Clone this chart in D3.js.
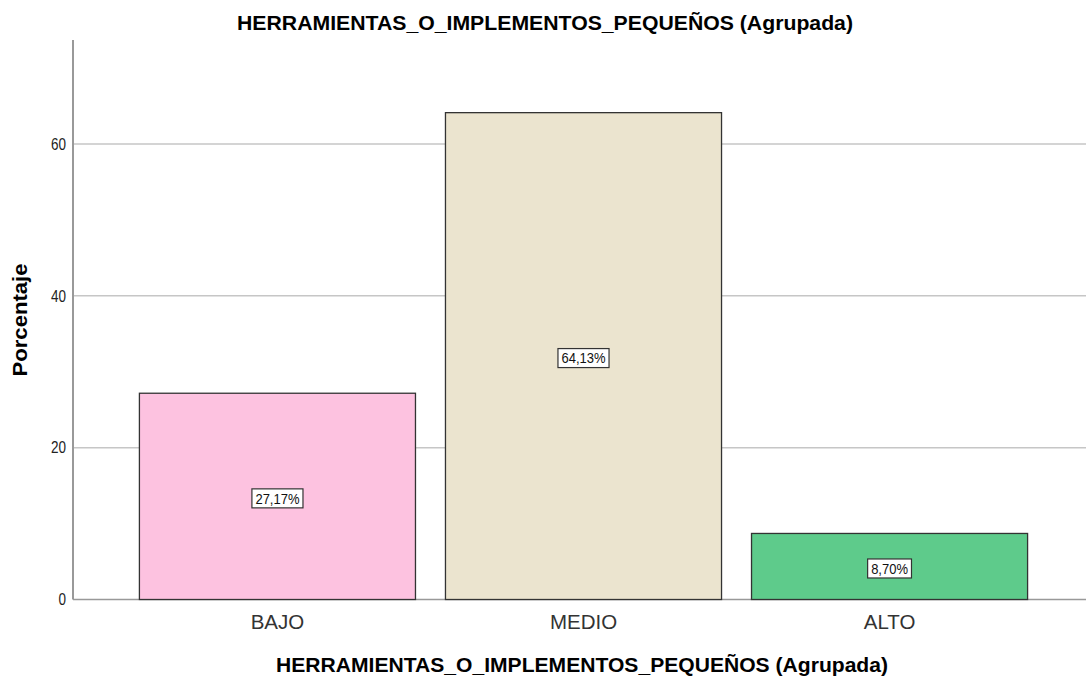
<!DOCTYPE html>
<html>
<head>
<meta charset="utf-8">
<script src="https://cdn.jsdelivr.net/npm/d3@7"></script>
<style>
body { margin: 0; background: #fff; }
text { font-family: "Liberation Sans", Arial, sans-serif; }
</style>
</head>
<body>
<script>
var w = 1086
var h = 682

var categories = ["BAJO", "MEDIO", "ALTO"]
var percents = [27.17, 64.13, 8.70]
var barColors = ["#fdc2e0", "#ebe4cf", "#5ecb8b"]
var yTicks = [0, 20, 40, 60]
var chartTitle = "HERRAMIENTAS_O_IMPLEMENTOS_PEQUEÑOS (Agrupada)"

var plotLeft = 73, plotRight = 1094, plotTop = 40, plotBottom = 599.5

var x = d3.scaleBand()
    .domain(categories)
    .range([plotLeft, plotRight])
    .paddingInner(0.098)
    .paddingOuter(0.217)

var y = d3.scaleLinear()
    .domain([0, 73.7])
    .range([plotBottom, plotTop])

var svg = d3.select("body")
    .append("svg")
    .attr("width", w)
    .attr("height", h)

// gridlines
svg.selectAll("line.grid")
    .data(yTicks.filter(function (d) { return d > 0 }))
    .enter()
    .append("line")
    .attr("x1", plotLeft)
    .attr("x2", w)
    .attr("y1", function (d) { return y(d) })
    .attr("y2", function (d) { return y(d) })
    .attr("stroke", "#c6c6c6")
    .attr("stroke-width", 1.5)

// y axis
var yAxis = svg.append("g")
    .attr("transform", "translate(" + plotLeft + ",0)")
    .call(d3.axisLeft(y).tickValues(yTicks).tickSize(0).tickPadding(7))
yAxis.select(".domain").remove()
yAxis.selectAll("text")
    .style("font-size", "13.5px")
    .style("font-family", "'Liberation Sans', Arial, sans-serif")
    .attr("transform", "scale(1,1.2)")
    .attr("fill", "#222")

svg.append("line")
    .attr("x1", plotLeft).attr("x2", plotLeft)
    .attr("y1", plotTop).attr("y2", plotBottom)
    .attr("stroke", "#999")
    .attr("stroke-width", 2)

svg.append("line")
    .attr("x1", plotLeft).attr("x2", w)
    .attr("y1", plotBottom).attr("y2", plotBottom)
    .attr("stroke", "#999")
    .attr("stroke-width", 1.5)

// bars
svg.selectAll("rect.bar")
    .data(categories)
    .enter()
    .append("rect")
    .attr("x", function (d) { return x(d) })
    .attr("width", x.bandwidth())
    .attr("y", function (d, i) { return y(percents[i]) })
    .attr("height", function (d, i) { return plotBottom - y(percents[i]) })
    .attr("fill", function (d, i) { return barColors[i] })
    .attr("stroke", "#333")
    .attr("stroke-width", 1.3)

// value labels
var labels = svg.selectAll("g.lbl")
    .data(categories)
    .enter()
    .append("g")
    .attr("transform", function (d, i) {
        return "translate(" + (x(d) + x.bandwidth() / 2) + "," + (y(percents[i] / 2) + 2) + ")"
    })

labels.append("text")
    .attr("text-anchor", "middle")
    .attr("dy", "0.35em")
    .attr("transform", "scale(1,1.15)")
    .style("font-size", "13px")
    .attr("fill", "#111")
    .text(function (d, i) { return percents[i].toFixed(2).replace(".", ",") + "%" })

labels.each(function () {
    var g = d3.select(this)
    var bb = g.select("text").node().getBBox()
    g.insert("rect", "text")
        .attr("x", bb.x - 3.5)
        .attr("y", -9.5)
        .attr("width", bb.width + 7)
        .attr("height", 19)
        .attr("fill", "#fff")
        .attr("stroke", "#333")
        .attr("stroke-width", 1.2)
})

// category labels
svg.selectAll("text.cat")
    .data(categories)
    .enter()
    .append("text")
    .attr("x", function (d) { return x(d) + x.bandwidth() / 2 })
    .attr("y", 629)
    .attr("text-anchor", "middle")
    .style("font-size", "20.5px")
    .attr("fill", "#333")
    .text(function (d) { return d })

// titles
svg.append("text")
    .attr("x", 545)
    .attr("y", 30)
    .attr("text-anchor", "middle")
    .attr("textLength", 616)
    .attr("lengthAdjust", "spacingAndGlyphs")
    .style("font-size", "20.5px")
    .style("font-weight", "bold")
    .text(chartTitle)

svg.append("text")
    .attr("x", 582)
    .attr("y", 672)
    .attr("text-anchor", "middle")
    .attr("textLength", 612)
    .attr("lengthAdjust", "spacingAndGlyphs")
    .style("font-size", "20.5px")
    .style("font-weight", "bold")
    .text(chartTitle)

svg.append("text")
    .attr("transform", "translate(27,320) rotate(-90)")
    .attr("text-anchor", "middle")
    .attr("textLength", 113)
    .attr("lengthAdjust", "spacingAndGlyphs")
    .style("font-size", "20px")
    .style("font-weight", "bold")
    .text("Porcentaje")
</script>
</body>
</html>
